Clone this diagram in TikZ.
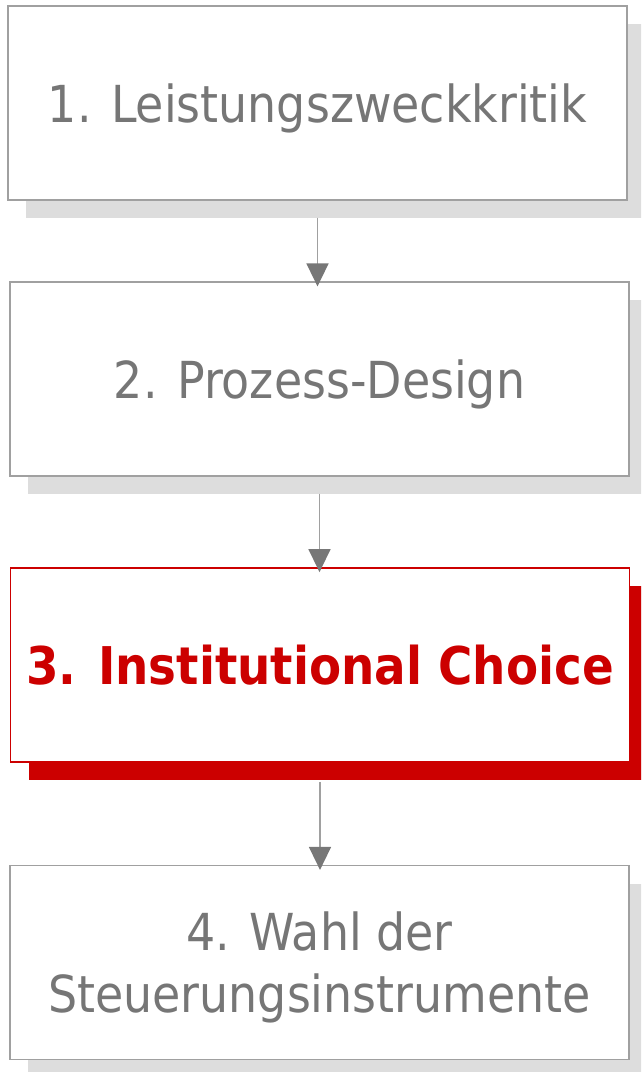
\documentclass[tikz,border=0pt]{standalone}
\usepackage{fontspec}
\setmainfont[FakeStretch=0.9]{DejaVu Sans}
\usetikzlibrary{arrows.meta, shadows}
\definecolor{boxgray}{HTML}{A0A0A0}
\definecolor{shadegray}{HTML}{DDDDDD}
\definecolor{textgray}{HTML}{767676}
\definecolor{arrowgray}{HTML}{777777}
\definecolor{choicered}{HTML}{CC0000}

\begin{document}
\begin{tikzpicture}[x=1pt, y=-1pt,
  stepbox/.style={draw=boxgray, line width=1.2pt, fill=white,
    minimum width=619pt, minimum height=194pt, inner sep=0pt,
    align=center, text=textgray, text depth=0pt,
    font=\fontsize{51}{62}\selectfont,
    drop shadow={shadow xshift=18pt, shadow yshift=-18pt,
      fill=shadegray, opacity=1}},
  activebox/.style={stepbox, draw=choicered, line width=1.8pt,
    text=choicered, font=\fontsize{52}{62}\selectfont\bfseries,
    drop shadow={shadow xshift=18pt, shadow yshift=-18pt,
      fill=choicered, opacity=1}},
  flow/.style={draw=boxgray, line width=1.5pt, shorten >=-5pt,
    -{Triangle[length=23pt, width=22pt, color=arrowgray]}}]
\useasboundingbox (0,0) rectangle (641,1072);
\begin{scope}
\clip (0,0) rectangle (641,1072);
\node (S1) [stepbox] at (317.5,103) {1. Leistungszweckkritik};
\node (S2) [stepbox] at (319.5,379) {2. Prozess-Design};
\node (S3) [activebox] at (320,665) {3. Institutional Choice};
\node (S4) [stepbox] at (319.5,962.5) {4. Wahl der\\Steuerungsinstrumente};
\end{scope}
%Steps:
\path (S1.south) ++(0,17) coordinate (A1);
\path (S2.south) ++(0,17) coordinate (A2);
\path (S3.south) ++(0,19) coordinate (A3);
\draw [flow] (A1) -- (A1 |- S2.north);
\draw [flow] (A2) -- (A2 |- S3.north);
\draw [flow] (A3) -- (A3 |- S4.north);
\end{tikzpicture}
\end{document}
